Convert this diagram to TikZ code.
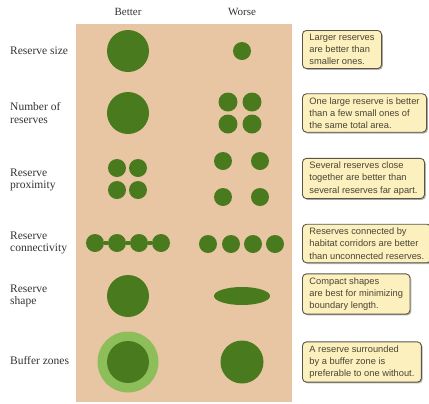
\documentclass[tikz,border=0pt]{standalone}
\usepackage{fontspec}
\setmainfont{Liberation Serif}
\newfontfamily\notefont{Liberation Sans}
\usepackage{tikz}
\usetikzlibrary{positioning}
\usetikzlibrary{shadows}
\definecolor{panelcolor}{HTML}{E9C6A3}
\definecolor{reservegreen}{HTML}{4A7A1E}
\definecolor{bufferlight}{HTML}{8DBE5A}
\definecolor{notefill}{HTML}{FCF0BE}
\definecolor{noteborder}{HTML}{5C5544}
\definecolor{notetext}{HTML}{4A4535}
\definecolor{labelgray}{HTML}{333333}

\begin{document}
\begin{tikzpicture}[x=1bp, y=-1bp,
  res/.style={circle,inner sep=0,fill=reservegreen,minimum size=#1},
  res/.default=18bp,
  lbl/.style={anchor=west,align=left,inner sep=0,text=labelgray,font=\fontsize{11.5bp}{12.5bp}\selectfont},
  head/.style={inner sep=0,text=labelgray,font=\fontsize{11bp}{12.5bp}\selectfont},
  note/.style={anchor=west,align=left,rounded corners=4bp,draw=noteborder,line width=0.9bp,fill=notefill,inner xsep=7bp,inner ysep=3.5bp,text=notetext,font=\notefont\fontsize{9.3bp}{12.3bp}\selectfont,drop shadow={shadow xshift=1.3bp,shadow yshift=-1.3bp,fill=black!60}}]
\useasboundingbox (0,0) rectangle (429,404);
\fill[panelcolor] (76,24) rectangle (292,402);
\node[head] (better) at (128,12) {Better};
\node[head] (worse) at (242,12) {Worse};
\node[lbl] (size) at (10,51) {Reserve size};
\node[lbl] (number) at (10,113) {Number of\\reserves};
\node[lbl] (proximity) at (10,180) {Reserve\\proximity};
\node[lbl] (connectivity) at (10,243) {Reserve\\connectivity};
\node[lbl] (shape) at (10,296) {Reserve\\shape};
\node[lbl] (buffer) at (10,361) {Buffer zones};
\node[res=42bp] (sizebig) at (128,51) {};
\node[res=18bp] (sizesmall) at (242,51) {};
\node[res=42bp] (numberbig) at (128,113) {};
\foreach \i/\x/\y in {1/228/102, 2/252/102, 3/228/124, 4/252/124}
  \node[res=19bp] (numbersmall\i) at (\x,\y) {};
\foreach \i/\x/\y in {1/117/168, 2/138/168, 3/117/190, 4/138/190}
  \node[res] (near\i) at (\x,\y) {};
\foreach \i/\x/\y in {1/223/161, 2/260/161, 3/223/197, 4/260/197}
  \node[res] (far\i) at (\x,\y) {};
\foreach \i/\x in {1/95, 2/117, 3/139, 4/161}
  \node[res] (linked\i) at (\x,243) {};
\draw[reservegreen, line width=4bp] (linked1) -- (linked2) -- (linked3) -- (linked4);
\foreach \i/\x in {1/208, 2/231, 3/253, 4/275}
  \node[res] (apart\i) at (\x,244) {};
\node[res=42bp] (compact) at (128,296) {};
\fill[reservegreen] (242,296) ellipse (28bp and 9bp);
\node[res=61bp, fill=bufferlight] (zone) at (128,362) {};
\node[res=42bp] (zonecore) at (zone) {};
\node[res=43bp] (nozone) at (242,362) {};
\node[note] (sizenote) at (302,49.5) {Larger reserves\\are better than\\smaller ones.};
\node[note] (numbernote) at (302,113) {One large reserve is better\\than a few small ones of\\the same total area.};
\node[note] (proximitynote) at (302,178.5) {Several reserves close\\together are better than\\several reserves far apart.};
\node[note] (connectivitynote) at (302,243.5) {Reserves connected by\\habitat corridors are better\\than unconnected reserves.};
\node[note] (shapenote) at (302,294) {Compact shapes\\are best for minimizing\\boundary length.};
\node[note] (buffernote) at (302,362) {A reserve surrounded\\by a buffer zone is\\preferable to one without.};
\end{tikzpicture}
\end{document}
